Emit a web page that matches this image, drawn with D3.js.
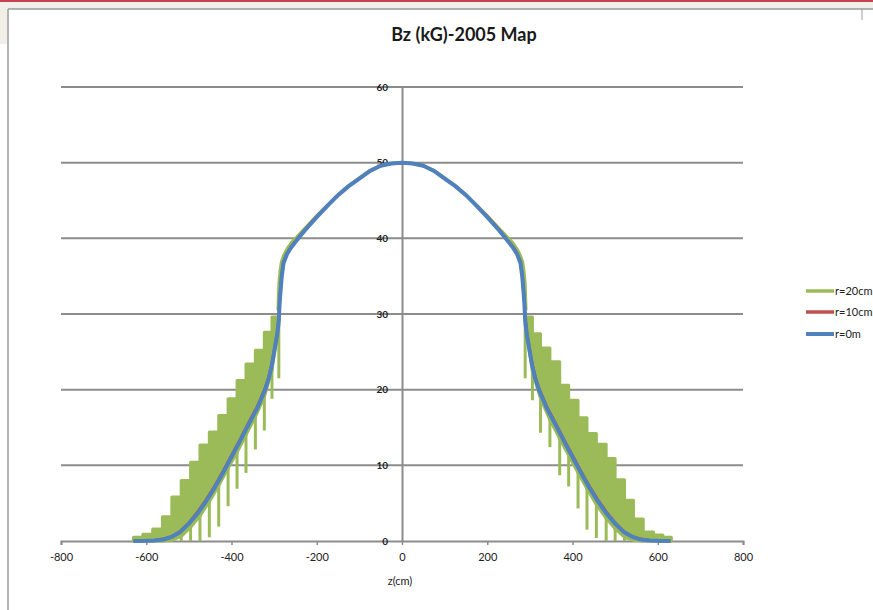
<!DOCTYPE html>
<html>
<head>
<meta charset="utf-8">
<script src="https://cdn.jsdelivr.net/npm/d3@7"></script>
<style>
  html, body { margin: 0; padding: 0; background: #ffffff; overflow: hidden; }
  text { font-family: Lato, "Open Sans", "Liberation Sans", sans-serif; }
</style>
</head>
<body>
<svg id="chart" width="873" height="610"></svg>
<script>
// ---- Axis settings ----
const xTicks = [-800, -600, -400, -200, 0, 200, 400, 600, 800];
const yTicks = [0, 10, 20, 30, 40, 50, 60];
const titleText = "Bz (kG)-2005 Map";
const xAxisTitle = "z(cm)";
const seriesNames = ["r=20cm", "r=10cm", "r=0m"];

// ---- r=0m : on-axis field (z in cm, Bz in kG) ----
const blueZ = [-630,-600,-580,-560,-540,-520,-500,-480,-460,-440,
               -420,-400,-380,-360,-340,-321,-312,-305,-298,-293,
               -289,-287,-285,-282,-278,-270,-260,-250,-243,-227,
               -200,-175,-150,-125,-100,-75,-50,-25,0,
               25,50,75,100,125,150,175,200,
               227,243,250,260,270,278,282,285,287,289,
               293,298,305,312,321,340,360,380,400,420,
               440,460,480,500,520,540,560,580,600,630];
const blueV = [0.0,0.02,0.08,0.2,0.55,1.2,2.3,3.6,5.2,7.0,
               9.0,11.1,13.2,15.4,17.5,20.0,21.6,23.3,25.6,27.2,
               29.2,31.5,33.0,35.0,36.7,37.9,38.8,39.5,40.0,41.1,
               42.8,44.3,45.7,46.9,47.9,48.9,49.6,49.9,50.0,
               49.9,49.6,48.9,47.9,46.9,45.7,44.3,42.8,
               41.1,40.0,39.5,38.8,37.9,36.7,35.0,33.0,31.5,29.2,
               27.2,25.6,23.3,21.6,20.0,17.5,15.4,13.2,11.1,9.0,
               7.0,5.2,3.6,2.3,1.2,0.55,0.2,0.08,0.02,0.0];

// ---- r=10cm ----
const redZ = blueZ;
const redV = [0.0,0.03,0.1,0.25,0.6,1.3,2.4,3.8,5.4,7.2,
              9.2,11.3,13.4,15.6,17.7,20.2,21.8,23.5,25.8,27.4,
              29.4,31.7,33.2,35.2,36.9,38.0,38.9,39.6,40.1,41.2,
              42.9,44.3,45.7,46.9,47.9,48.9,49.6,49.9,50.0,
              49.9,49.6,48.9,47.9,46.9,45.7,44.3,42.9,
              41.2,40.1,39.6,38.9,38.0,36.9,35.2,33.2,31.7,29.4,
              27.4,25.8,23.5,21.8,20.2,17.7,15.6,13.4,11.3,9.2,
              7.2,5.4,3.8,2.4,1.3,0.6,0.25,0.1,0.03,0.0];

// ---- r=20cm : central part (smooth) ----
const greenCoreZ = [-291,-289,-286,-283,-278,-270,-260,-250,-240,-225,
                    -200,-175,-150,-125,-100,-75,-50,-25,0,
                    25,50,75,100,125,150,175,200,
                    225,240,250,260,270,278,283,286,289,291];
const greenCoreV = [30.5,34.0,35.8,36.9,37.7,38.6,39.4,40.0,40.6,41.5,
                    43.0,44.4,45.8,47.0,48.0,49.0,49.6,49.9,50.0,
                    49.9,49.6,49.0,48.0,47.0,45.8,44.4,43.0,
                    41.5,40.6,40.0,39.4,38.6,37.7,36.9,35.8,34.0,30.5];

// ---- r=20cm : coil region, one step per coil (right side) ----
const greenRightZ    = [289,306,325,347,370,391,413,434,456,479,500,522,543,566,590,612,632];
const greenRightTop  = [29.6,27.4,25.5,23.7,20.6,18.6,16.3,14.2,12.8,10.9,8.1,5.4,2.9,1.2,0.8,0.5];
const greenRightLow  = [21.5,18.6,14.3,12.4,8.7,7.2,4.3,1.5,0.4,0.0,0.0,0.0,0.0,0.0,0.0,0.0];
const greenRightBase = [28.5,22.4,18.8,16.0,13.5,11.3,9.0,6.9,4.8,3.0,1.6,0.5,0.1,0.0,0.0,0.0,0.0];

// ---- r=20cm : coil region (left side) ----
const greenLeftZ    = [-289,-305,-323,-344,-366,-387,-408,-430,-452,-474,-496,-518,-540,-562,-585,-608,-630];
const greenLeftTop  = [29.6,27.6,25.2,23.4,21.2,18.8,16.6,14.4,12.7,10.4,8.0,5.8,3.2,1.6,0.9,0.5];
const greenLeftLow  = [21.5,18.8,14.6,12.1,9.0,6.9,4.6,1.9,0.5,0.0,0.0,0.0,0.0,0.0,0.0,0.0];
const greenLeftBase = [28.5,22.6,19.0,16.4,14.0,11.7,9.6,7.3,5.2,3.3,1.8,0.6,0.1,0.0,0.0,0.0,0.0];

// ---- Colours ----
const GREEN = "#9bbb59", RED = "#c0504d", BLUE = "#4f81bd";
const GRID = "#8c8c8c";

const svg = d3.select("#chart");

// window frame around the chart
svg.append("rect").attr("x", 0).attr("y", 0).attr("width", 873).attr("height", 610).attr("fill", "#ffffff");
svg.append("rect").attr("x", 0).attr("y", 2).attr("width", 873).attr("height", 7).attr("fill", "#f1efe8");
svg.append("rect").attr("x", 0).attr("y", 2).attr("width", 7).attr("height", 42).attr("fill", "#f1efe8");
svg.append("rect").attr("x", 0).attr("y", 0).attr("width", 873).attr("height", 2).attr("fill", "#c9404f");
svg.append("line").attr("x1", 8).attr("y1", 9).attr("x2", 873).attr("y2", 9)
   .attr("stroke", "#9a9a9a").attr("stroke-width", 1.5);
svg.append("line").attr("x1", 8).attr("y1", 9).attr("x2", 8).attr("y2", 610)
   .attr("stroke", "#9a9a9a").attr("stroke-width", 1.5);
svg.append("line").attr("x1", 862).attr("y1", 9).attr("x2", 862).attr("y2", 20)
   .attr("stroke", "#9a9a9a").attr("stroke-width", 1);

// scales
const x = d3.scaleLinear().domain([-800, 800]).range([61, 743]);
const y = d3.scaleLinear().domain([0, 60]).range([541, 87]);

// title
svg.append("text").attr("x", 464).attr("y", 41).attr("text-anchor", "middle")
   .attr("font-size", 18).attr("font-weight", 700).attr("fill", "#1a1a1a").text(titleText);

// horizontal gridlines
svg.append("g").selectAll("line").data(yTicks.filter(d => d !== 0)).join("line")
   .attr("x1", x(-800)).attr("x2", x(800))
   .attr("y1", d => y(d)).attr("y2", d => y(d))
   .attr("stroke", GRID).attr("stroke-width", 2);

// x axis (crosses at Bz = 0)
const xAxis = svg.append("g").attr("transform", `translate(0,${y(0)})`)
   .call(d3.axisBottom(x).tickValues(xTicks).tickSize(4).tickPadding(8).tickFormat(d => String(d)));
xAxis.select(".domain").attr("stroke", GRID).attr("stroke-width", 2);
xAxis.selectAll(".tick line").attr("stroke", GRID).attr("stroke-width", 1.5);
xAxis.selectAll(".tick text").attr("font-size", 11).attr("fill", "#222")
   .style("font-family", "Lato, 'Open Sans', sans-serif");

// y axis (crosses at z = 0)
const yAxis = svg.append("g").attr("transform", `translate(${x(0)},0)`)
   .call(d3.axisLeft(y).tickValues(yTicks).tickSize(0).tickPadding(14));
yAxis.select(".domain").attr("stroke", GRID).attr("stroke-width", 2);
yAxis.selectAll(".tick text").attr("font-size", 10).attr("font-weight", 700).attr("fill", "#222")
   .style("font-family", "Lato, 'Open Sans', sans-serif");

// x axis title
svg.append("text").attr("x", 400).attr("y", 585).attr("text-anchor", "middle")
   .attr("font-size", 11).attr("fill", "#222").text(xAxisTitle);

const line = d3.line().x(d => x(d[0])).y(d => y(d[1]));

// r=20cm : coil steps (filled band) and spikes
function drawCoilSide(zs, tops, lows, bases) {
  const g = svg.append("g");
  for (let i = 0; i < tops.length; i++) {
    const pts = [[zs[i], tops[i]], [zs[i + 1], tops[i]], [zs[i + 1], bases[i + 1]], [zs[i], bases[i]]];
    g.append("path").attr("d", line(pts) + "Z")
     .attr("fill", GREEN).attr("stroke", GREEN).attr("stroke-width", 3).attr("stroke-linejoin", "round");
  }
  g.selectAll("line.spike").data(d3.range(tops.length)).join("line")
   .attr("class", "spike")
   .attr("x1", i => x(zs[i])).attr("x2", i => x(zs[i]))
   .attr("y1", i => y(tops[i])).attr("y2", i => y(lows[i]))
   .attr("stroke", GREEN).attr("stroke-width", 3);
}
drawCoilSide(greenLeftZ, greenLeftTop, greenLeftLow, greenLeftBase);
drawCoilSide(greenRightZ, greenRightTop, greenRightLow, greenRightBase);

svg.append("path").attr("d", line(greenCoreZ.map((z, i) => [z, greenCoreV[i]])))
   .attr("fill", "none").attr("stroke", GREEN).attr("stroke-width", 3).attr("stroke-linejoin", "round");

// r=10cm
svg.append("path").attr("d", line(redZ.map((z, i) => [z, redV[i]])))
   .attr("fill", "none").attr("stroke", RED).attr("stroke-width", 3).attr("stroke-linejoin", "round");

// r=0m
svg.append("path").attr("d", line(blueZ.map((z, i) => [z, blueV[i]])))
   .attr("fill", "none").attr("stroke", BLUE).attr("stroke-width", 4).attr("stroke-linejoin", "round");

// legend
const legendY = [291, 312, 334];
const legendColors = [GREEN, RED, BLUE];
const lg = svg.append("g");
seriesNames.forEach((name, i) => {
  lg.append("line").attr("x1", 806).attr("x2", 834).attr("y1", legendY[i]).attr("y2", legendY[i])
    .attr("stroke", legendColors[i]).attr("stroke-width", i === 2 ? 4 : 3.5);
  lg.append("text").attr("x", 835).attr("y", legendY[i]).attr("dy", "0.35em")
    .attr("font-size", 11).attr("fill", "#222").text(name);
});
</script>
</body>
</html>
